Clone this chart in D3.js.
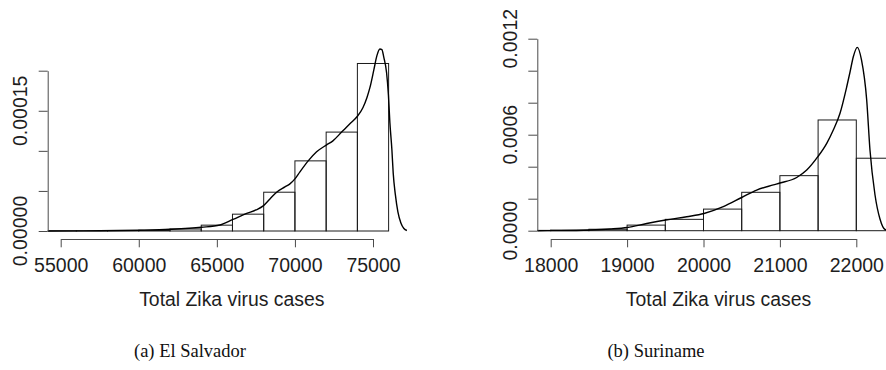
<!DOCTYPE html>
<html>
<head>
<meta charset="utf-8">
<script src="https://cdn.jsdelivr.net/npm/d3@7"></script>
<style>
  html, body { margin: 0; padding: 0; background: #fff; }
  svg { display: block; }
</style>
</head>
<body>
<svg id="fig" width="886" height="370"></svg>
<script>
// ---- El Salvador: histogram (density scale) and kernel density ----
const svBinEdges = [54000, 56000, 58000, 60000, 62000, 64000, 66000, 68000, 70000, 72000, 74000, 76000];
const svBinDensity = [2e-7, 3e-7, 5e-7, 1.0e-6, 2.5e-6, 7.3e-6, 2.1e-5, 4.84e-5, 8.75e-5, 1.234e-4, 2.09e-4];
const svCurveX = [54168, 57516, 60013, 61997, 64014, 65198, 66031, 66908, 67503, 67970, 68400, 68828,
  69360, 69680, 70000, 70320, 70851, 71389, 72029, 72433, 72990, 73521, 73988, 74353, 74609, 74801,
  75057, 75250, 75442, 75569, 75697, 75870, 75986, 76082, 76210, 76293, 76434, 76594, 76786, 76978, 77170];
const svCurveY = [0, 2.5e-7, 1.0e-6, 2.1e-6, 4.6e-6, 7.5e-6, 1.44e-5, 2.19e-5, 2.63e-5, 3.13e-5, 4.0e-5, 4.84e-5,
  5.5e-5, 5.88e-5, 6.5e-5, 7.38e-5, 8.75e-5, 9.88e-5, 1.075e-4, 1.125e-4, 1.234e-4, 1.338e-4, 1.429e-4, 1.538e-4, 1.663e-4, 1.788e-4,
  2.013e-4, 2.188e-4, 2.271e-4, 2.263e-4, 2.163e-4, 1.975e-4, 1.7e-4, 1.35e-4, 1.013e-4, 7.25e-5, 4.5e-5, 2.38e-5, 1.0e-5, 3.1e-6, 6e-7];
const svTicksX = [55000, 60000, 65000, 70000, 75000];
const svTicksY = [0, 0.00005, 0.0001, 0.00015, 0.0002];
const svLabelsY = ["0.00000", "", "", "0.00015", ""];

// ---- Suriname ----
const srBinEdges = [17500, 18000, 18500, 19000, 19500, 20000, 20500, 21000, 21500, 22000, 22500];
const srBinDensity = [2e-6, 4e-6, 9e-6, 3.5e-5, 7.1e-5, 1.35e-4, 2.4e-4, 3.44e-4, 6.92e-4, 4.53e-4];
const srCurveX = [17825, 18122, 18514, 18776, 19003, 19257, 19505, 19780, 20007, 20259, 20500, 20696, 20914,
  21001, 21220, 21351, 21499, 21613, 21699, 21787, 21874, 21918, 21961, 22013, 22068, 22136, 22179, 22245,
  22310, 22376, 22441];
const srCurveY = [0, 6e-7, 4.4e-6, 1.06e-5, 2.0e-5, 4.5e-5, 6.7e-5, 8.75e-5, 1.075e-4, 1.5e-4, 2.075e-4, 2.54e-4, 2.86e-4,
  2.98e-4, 3.325e-4, 3.79e-4, 4.64e-4, 5.46e-4, 6.29e-4, 7.34e-4, 8.98e-4, 9.92e-4, 1.0875e-3, 1.146e-3, 1.067e-3, 8.17e-4, 5.04e-4, 2.23e-4,
  7.3e-5, 7.5e-6, 1.2e-6];
const srTicksX = [18000, 19000, 20000, 21000, 22000];
const srTicksY = [0, 0.0002, 0.0004, 0.0006, 0.0008, 0.0010, 0.0012];
const srLabelsY = ["0.0000", "", "", "0.0006", "", "", "0.0012"];

const xTitle = "Total Zika virus cases";
const captions = ["(a) El Salvador", "(b) Suriname"];

// ---- layout of the two panels ----
const panels = [
  {
    id: "sv", edges: svBinEdges, dens: svBinDensity, cx: svCurveX, cy: svCurveY,
    ticksX: svTicksX, ticksY: svTicksY, labelsY: svLabelsY, caption: captions[0],
    xDom: [55000, 75000], xRange: [60.7, 373],
    yDom: [0, 0.0002], yRange: [231, 70.7],
    axisX: 47.7, clipRight: 440, captionX: 190
  },
  {
    id: "sr", edges: srBinEdges, dens: srBinDensity, cx: srCurveX, cy: srCurveY,
    ticksX: srTicksX, ticksY: srTicksY, labelsY: srLabelsY, caption: captions[1],
    xDom: [18000, 22000], xRange: [550.7, 856.3],
    yDom: [0, 0.0012], yRange: [230.7, 38.7],
    axisX: 537.3, clipRight: 900, captionX: 656
  }
];

const svg = d3.select("#fig");
const FONT = "'Liberation Sans', Arial, Helvetica, sans-serif";
const TXT = "#1e1e1e";
const AX = "#4a4a4a";

panels.forEach(p => {
  const x = d3.scaleLinear().domain(p.xDom).range(p.xRange);
  const y = d3.scaleLinear().domain(p.yDom).range(p.yRange);
  const base = y(0);

  // plot region clip (bars and curve are cut at the y axis)
  svg.append("clipPath").attr("id", "clip-" + p.id)
    .append("rect")
    .attr("x", p.axisX).attr("y", 0)
    .attr("width", p.clipRight - p.axisX).attr("height", base + 1.5);

  const g = svg.append("g").attr("clip-path", "url(#clip-" + p.id + ")");

  // histogram bars
  const bins = p.dens.map((d, i) => ({ x0: p.edges[i], x1: p.edges[i + 1], d }));
  g.selectAll("rect.bar").data(bins).enter().append("rect")
    .attr("class", "bar")
    .attr("x", b => x(b.x0))
    .attr("width", b => x(b.x1) - x(b.x0))
    .attr("y", b => y(b.d))
    .attr("height", b => base - y(b.d))
    .attr("fill", "none")
    .attr("stroke", "#1a1a1a")
    .attr("stroke-width", 1);

  // density curve
  const pts = p.cx.map((v, i) => [v, p.cy[i]]);
  g.append("path")
    .datum(pts)
    .attr("d", d3.line().x(d => x(d[0])).y(d => y(d[1])).curve(d3.curveMonotoneX))
    .attr("fill", "none")
    .attr("stroke", "#000")
    .attr("stroke-width", 1.4);

  // x axis
  const xAxis = svg.append("g")
    .attr("transform", "translate(0,239)")
    .call(d3.axisBottom(x).tickValues(p.ticksX).tickSize(8.3).tickSizeOuter(0).tickPadding(7)
      .tickFormat(d3.format("d")));
  xAxis.select(".domain").attr("stroke", AX).attr("stroke-width", 1);
  xAxis.selectAll(".tick line").attr("stroke", AX).attr("stroke-width", 1);
  xAxis.selectAll(".tick text")
    .attr("fill", TXT).attr("font-family", FONT).attr("font-size", "19.5px")
    .attr("dy", null).attr("y", 33);

  // y axis (lines from the axis generator, rotated labels drawn separately)
  const yAxis = svg.append("g")
    .attr("transform", "translate(" + p.axisX + ",0)")
    .call(d3.axisLeft(y).tickValues(p.ticksY).tickSize(9).tickSizeOuter(0).tickFormat(""));
  yAxis.select(".domain").attr("stroke", AX).attr("stroke-width", 1);
  yAxis.selectAll(".tick line").attr("stroke", AX).attr("stroke-width", 1);

  svg.append("g").selectAll("text").data(p.ticksY.map((t, i) => ({ t, s: p.labelsY[i] })).filter(d => d.s))
    .enter().append("text")
    .attr("transform", d => "translate(" + (p.axisX - 20.5) + "," + y(d.t) + ") rotate(-90)")
    .attr("text-anchor", "middle")
    .attr("fill", TXT).attr("font-family", FONT).attr("font-size", "19.5px")
    .text(d => d.s);

  // axis title
  svg.append("text")
    .attr("x", (p.xRange[0] + p.xRange[1]) / 2 + 15)
    .attr("y", 306)
    .attr("text-anchor", "middle")
    .attr("fill", TXT).attr("font-family", FONT).attr("font-size", "19.4px")
    .text(xTitle);

  // sub-figure caption
  svg.append("text")
    .attr("x", p.captionX)
    .attr("y", 357)
    .attr("text-anchor", "middle")
    .attr("fill", "#111").attr("font-family", "'Liberation Serif', 'Times New Roman', serif")
    .attr("font-size", "18.5px")
    .text(p.caption);
});
</script>
</body>
</html>
